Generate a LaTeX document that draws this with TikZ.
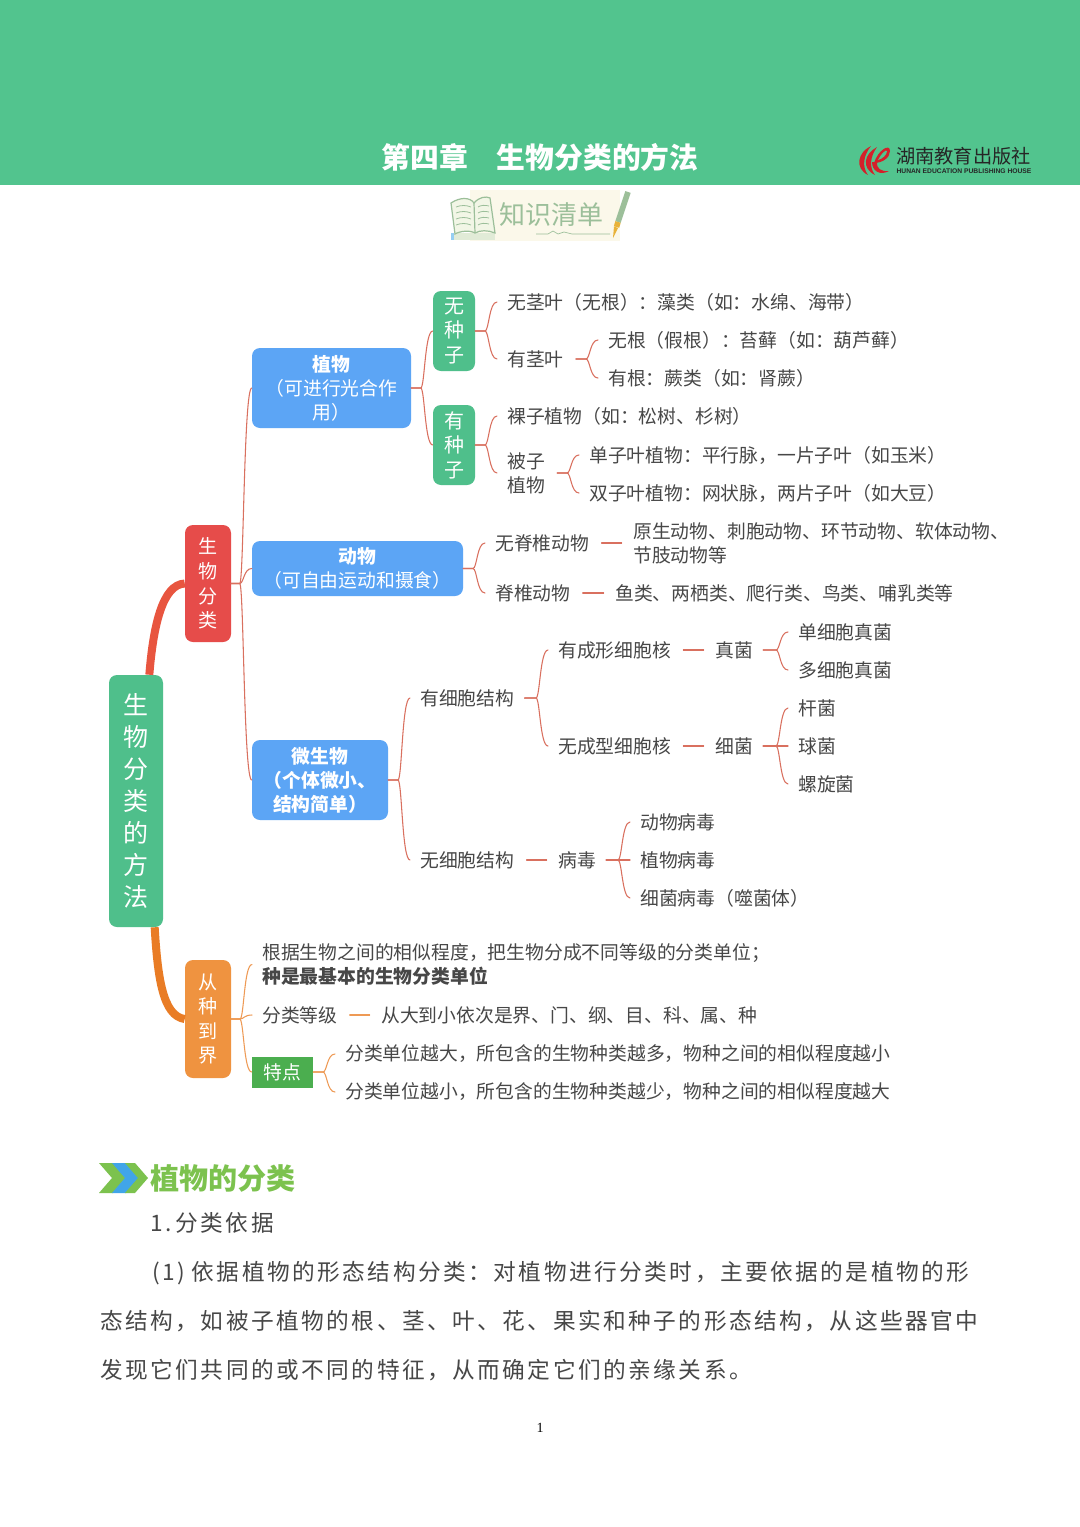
\documentclass[tikz,border=0pt]{standalone}
\usepackage{fontspec}
\usetikzlibrary{calc}
\setmainfont{Noto Sans CJK SC}
\newfontfamily\bodyf[LetterSpace=11]{Noto Sans CJK SC}
\newfontfamily\pagef{Liberation Serif}
\newfontfamily\logof{Liberation Sans}
\definecolor{hdr}{HTML}{52C48E}
\definecolor{bxblue}{HTML}{5CA5F5}
\definecolor{bxgreen}{HTML}{4FBF8B}
\definecolor{bxred}{HTML}{E64C4A}
\definecolor{bxorange}{HTML}{EF9340}
\definecolor{bxtd}{HTML}{4BAE4F}
\definecolor{thickred}{HTML}{E8553F}
\definecolor{thickor}{HTML}{E97C25}
\definecolor{linered}{HTML}{D9705F}
\definecolor{lineor}{HTML}{EE9A55}
\definecolor{tx}{HTML}{474747}
\definecolor{ttl}{HTML}{7CC24E}
\definecolor{chevblue}{HTML}{41A5E8}
\definecolor{bksg}{HTML}{9CBF9A}
\definecolor{banbg}{HTML}{FBF8EA}
\definecolor{logored}{HTML}{D4202A}
\definecolor{bkpage}{HTML}{F2F6E6}
\definecolor{gold}{HTML}{E8B23A}
\tikzset{
  bx/.style n args={3}{rounded corners=6pt,minimum width=#1*0.75pt,minimum height=#2*0.75pt,fill=#3,inner sep=0pt,align=center,text=white},
  mtxt/.style={anchor=west,inner xsep=7.5pt,inner ysep=0pt,text=tx,align=left,font=\fontsize{14.1}{18}\selectfont},
  btxt/.style={font=\fontsize{14.1}{18}\selectfont},
  vtxt/.style={font=\fontsize{15}{18.4}\selectfont},
  v2txt/.style={font=\fontsize{14.3}{18.4}\selectfont},
  conn/.style={line width=0.8pt,line cap=round},
  thick line/.style={line width=6pt},
  bodytxt/.style={anchor=west,inner sep=0pt,text=tx,font=\bodyf\fontsize{17}{20}\selectfont},
}
\newcommand\brc[3][]{\draw[conn,#1] (#2.east) -- ($(#2.east -| #3.west)+(-12,0)$) .. controls +(4,0) and +(-8,0) .. (#3.west);}
\newcommand\dsh[3][]{\draw[conn,shorten <=1.5pt,shorten >=1pt,#1] (#2.east) -- (#3.west);}
\begin{document}
\begin{tikzpicture}[x=0.75pt,y=-0.75pt]
\useasboundingbox (0,0) rectangle (1080,1527);
\fill[white] (0,0) rectangle (1080,1527);
% header
\fill[hdr] (0,0) rectangle (1080,185);
\node[text=white,font=\fontsize{21.6}{24}\bfseries\selectfont,inner sep=0pt] (title) at (540,157) {第四章　生物分类的方法};
% logo
\fill[logored] (871,146) .. controls (858,152) and (854,168) .. (868,175) .. controls (862,167) and (863,156) .. (871,146) -- cycle;
\fill[logored] (877,147) .. controls (864,154) and (861,168) .. (875,175) .. controls (869,167) and (870,157) .. (877,147) -- cycle;
\fill[logored] (874,163) .. controls (878,150) and (890,143) .. (890,151) .. controls (890,158) and (882,163) .. (874,163) -- cycle;
\fill[logored] (872,162) .. controls (872,171) and (880,176) .. (889,171) .. controls (881,172) and (876,168) .. (877,162) -- cycle;
\fill[hdr] (878,160) .. controls (881,154) and (886,149) .. (887,151) .. controls (887,155) and (882,159) .. (878,160) -- cycle;
\node[text=black!85,font=\fontsize{14.4}{15}\selectfont,inner sep=0pt] (logoa) at (963.5,156) {湖南教育出版社};
\node[text=black!85,font=\logof\fontsize{5.05}{6}\bfseries\selectfont,inner sep=0pt] (logob) at (964,171) {HUNAN EDUCATION PUBLISHING HOUSE};
% banner
\fill[banbg] (470,190) rectangle (620,241);
\fill[bkpage!80!bksg] (452,233) rectangle (495,240);
\fill[chevblue!55!white] (451,233) rectangle (454,240);
\fill[fill=bkpage,draw=bksg,line width=0.9pt] (451,203) .. controls (460,197) and (470,197) .. (474,203) .. controls (479,197) and (486,196) .. (490,198) -- (495,233) .. controls (488,230) and (480,230) .. (475,233) .. controls (470,230) and (460,231) .. (455,234) -- cycle;
\draw[bksg,line width=0.9pt] (474,203) -- (475,233);
\foreach \yy in {207,213,219,225} {
  \draw[bksg,line width=0.6pt] (456,\yy) .. controls (461,\yy-2) and (466,\yy-2) .. (471,\yy);
  \draw[bksg,line width=0.6pt] (478,\yy) .. controls (481,\yy-2) and (485,\yy-2) .. (489,\yy-1);
}
\node[text=bksg,font=\fontsize{19.5}{20}\selectfont,inner sep=0pt] (bantxt) at (551,215) {知识清单};
\draw[bksg,line width=0.5pt] (536,234) -- (548,234) -- (553,231) -- (558,234) -- (564,232) -- (572,234) -- (610,234);
\draw[bksg,line width=4.2pt] (628,192) -- (618,222);
\draw[gold,line width=4.2pt] (618,222) -- (616.5,227);
\fill[gold] (618,228) -- (614,226.5) -- (613,238) -- cycle;
% ---- root and level one
\node[bx={54}{252}{bxgreen},font=\fontsize{18.75}{24}\selectfont] (root) at (136,801) {生\\物\\分\\类\\的\\方\\法};
\node[bx={46}{117}{bxred},v2txt] (gen) at (208,583.5) {生\\物\\分\\类};
\node[bx={46}{118}{bxorange},v2txt] (cong) at (208,1019) {从\\种\\到\\界};
\draw[thickred,thick line] ([xshift=10]root.north) .. controls +(4,-50) and +(-22,1) .. (gen.west);
\draw[thickor,thick line] ([xshift=14]root.south) .. controls +(3,50) and +(-22,-3) .. (cong.west);
% level two
\node[bx={159}{80}{bxblue},btxt] (zw) at (331.5,388) {\textbf{植物}\\（可进行光合作\\用）};
\node[bx={211}{55}{bxblue},btxt] (dw) at (357.5,568.5) {\textbf{动物}\\（可自由运动和摄食）};
\node[bx={136}{80}{bxblue},btxt] (wsw) at (320,780) {\textbf{微生物}\\\textbf{（个体微小、}\\\textbf{结构简单）}};
\node[bx={42}{80}{bxgreen},vtxt] (wzz) at (454,331) {无\\种\\子};
\node[bx={42}{80}{bxgreen},vtxt] (yzz) at (454,445) {有\\种\\子};
% plants
\node[mtxt] (a1) at (497,302) {无茎叶（无根）：藻类（如：水绵、海带）};
\node[mtxt] (a2) at (497,359) {有茎叶};
\node[mtxt] (a21) at (598,340) {无根（假根）：苔藓（如：葫芦藓）};
\node[mtxt] (a22) at (598,378) {有根：蕨类（如：肾蕨）};
\node[mtxt] (b1) at (497,416) {裸子植物（如：松树、杉树）};
\node[mtxt] (b2) at (497,473) {被子\\植物};
\node[mtxt] (b21) at (579,455) {单子叶植物：平行脉，一片子叶（如玉米）};
\node[mtxt] (b22) at (579,493) {双子叶植物：网状脉，两片子叶（如大豆）};
% animals
\node[mtxt] (c1) at (485,543) {无脊椎动物};
\node[mtxt] (c11) at (623,543) {原生动物、刺胞动物、环节动物、软体动物、\\节肢动物等};
\node[mtxt] (c2) at (485,593) {脊椎动物};
\node[mtxt] (c21) at (605,593) {鱼类、两栖类、爬行类、鸟类、哺乳类等};
% microbes
\node[mtxt] (d1) at (410,698) {有细胞结构};
\node[mtxt] (d11) at (548,650) {有成形细胞核};
\node[mtxt] (d111) at (705,650) {真菌};
\node[mtxt] (d1111) at (788,632) {单细胞真菌};
\node[mtxt] (d1112) at (788,670) {多细胞真菌};
\node[mtxt] (d12) at (548,746) {无成型细胞核};
\node[mtxt] (d121) at (705,746) {细菌};
\node[mtxt] (d1211) at (788,708) {杆菌};
\node[mtxt] (d1212) at (788,746) {球菌};
\node[mtxt] (d1213) at (788,784) {螺旋菌};
\node[mtxt] (d2) at (410,860) {无细胞结构};
\node[mtxt] (d21) at (548,860) {病毒};
\node[mtxt] (d211) at (630,822) {动物病毒};
\node[mtxt] (d212) at (630,860) {植物病毒};
\node[mtxt] (d213) at (630,898) {细菌病毒（噬菌体）};
% from species to kingdom
\node[mtxt] (e1) at (252,964.5) {根据生物之间的相似程度，把生物分成不同等级的分类单位；\\\textbf{种是最基本的生物分类单位}};
\node[mtxt] (e2) at (252,1015) {分类等级};
\node[mtxt] (e21) at (371,1015) {从大到小依次是界、门、纲、目、科、属、种};
\node[bx={61}{31}{bxtd},rounded corners=0pt,btxt] (e3) at (282.5,1072) {特点};
\node[mtxt] (e31) at (335,1054) {分类单位越大，所包含的生物种类越多，物种之间的相似程度越小};
\node[mtxt] (e32) at (335,1092) {分类单位越小，所包含的生物种类越少，物种之间的相似程度越大};
% connectors
\begin{scope}[linered]
\brc{gen}{zw}\brc{gen}{dw}\brc{gen}{wsw}
\brc{zw}{wzz}\brc{zw}{yzz}
\brc{wzz}{a1}\brc{wzz}{a2}
\brc[shorten <=1.5pt]{a2}{a21}\brc[shorten <=1.5pt]{a2}{a22}
\brc{yzz}{b1}\brc{yzz}{b2}
\brc[shorten <=1.5pt]{b2}{b21}\brc[shorten <=1.5pt]{b2}{b22}
\brc{dw}{c1}\brc{dw}{c2}
\dsh{c1}{c11}\dsh{c2}{c21}
\brc{wsw}{d1}\brc{wsw}{d2}
\brc{d1}{d11}\brc{d1}{d12}
\dsh{d11}{d111}\dsh{d12}{d121}
\brc{d111}{d1111}\brc{d111}{d1112}
\brc{d121}{d1211}\brc{d121}{d1212}\brc{d121}{d1213}
\dsh{d2}{d21}
\brc{d21}{d211}\brc{d21}{d212}\brc{d21}{d213}
\end{scope}
\begin{scope}[lineor]
\brc{cong}{e1}\brc{cong}{e2}\brc{cong}{e3}
\dsh{e2}{e21}
\brc{e3}{e31}\brc{e3}{e32}
\end{scope}
% section heading
\fill[ttl] (99,1163) -- (113,1163) -- (126,1178) -- (113,1193) -- (99,1193) -- (112,1178) -- cycle;
\fill[chevblue] (112,1163) -- (126,1163) -- (139,1178) -- (126,1193) -- (112,1193) -- (125,1178) -- cycle;
\fill[ttl] (125,1163) -- (135,1163) -- (148,1178) -- (135,1193) -- (125,1193) -- (138,1178) -- cycle;
\node[anchor=west,inner sep=0pt,text=ttl,font=\fontsize{21.8}{24}\bfseries\selectfont] (sec) at (150,1178) {植物的分类};
% body
\node[bodytxt] (l0) at (150,1223) {1.\hspace{3pt}分类依据};
\node[bodytxt] (l1) at (152,1273) {(1)\hspace{5pt}依据植物的形态结构分类：对植物进行分类时，主要依据的是植物的形};
\node[bodytxt] (l2) at (100,1321) {态结构，如被子植物的根、茎、叶、花、果实和种子的形态结构，从这些器官中};
\node[bodytxt] (l3) at (100,1370) {发现它们共同的或不同的特征，从而确定它们的亲缘关系。};
\node[inner sep=0pt,text=black,font=\pagef\fontsize{10.5}{12}\selectfont] (pg) at (540,1428) {1};
\end{tikzpicture}
\end{document}
